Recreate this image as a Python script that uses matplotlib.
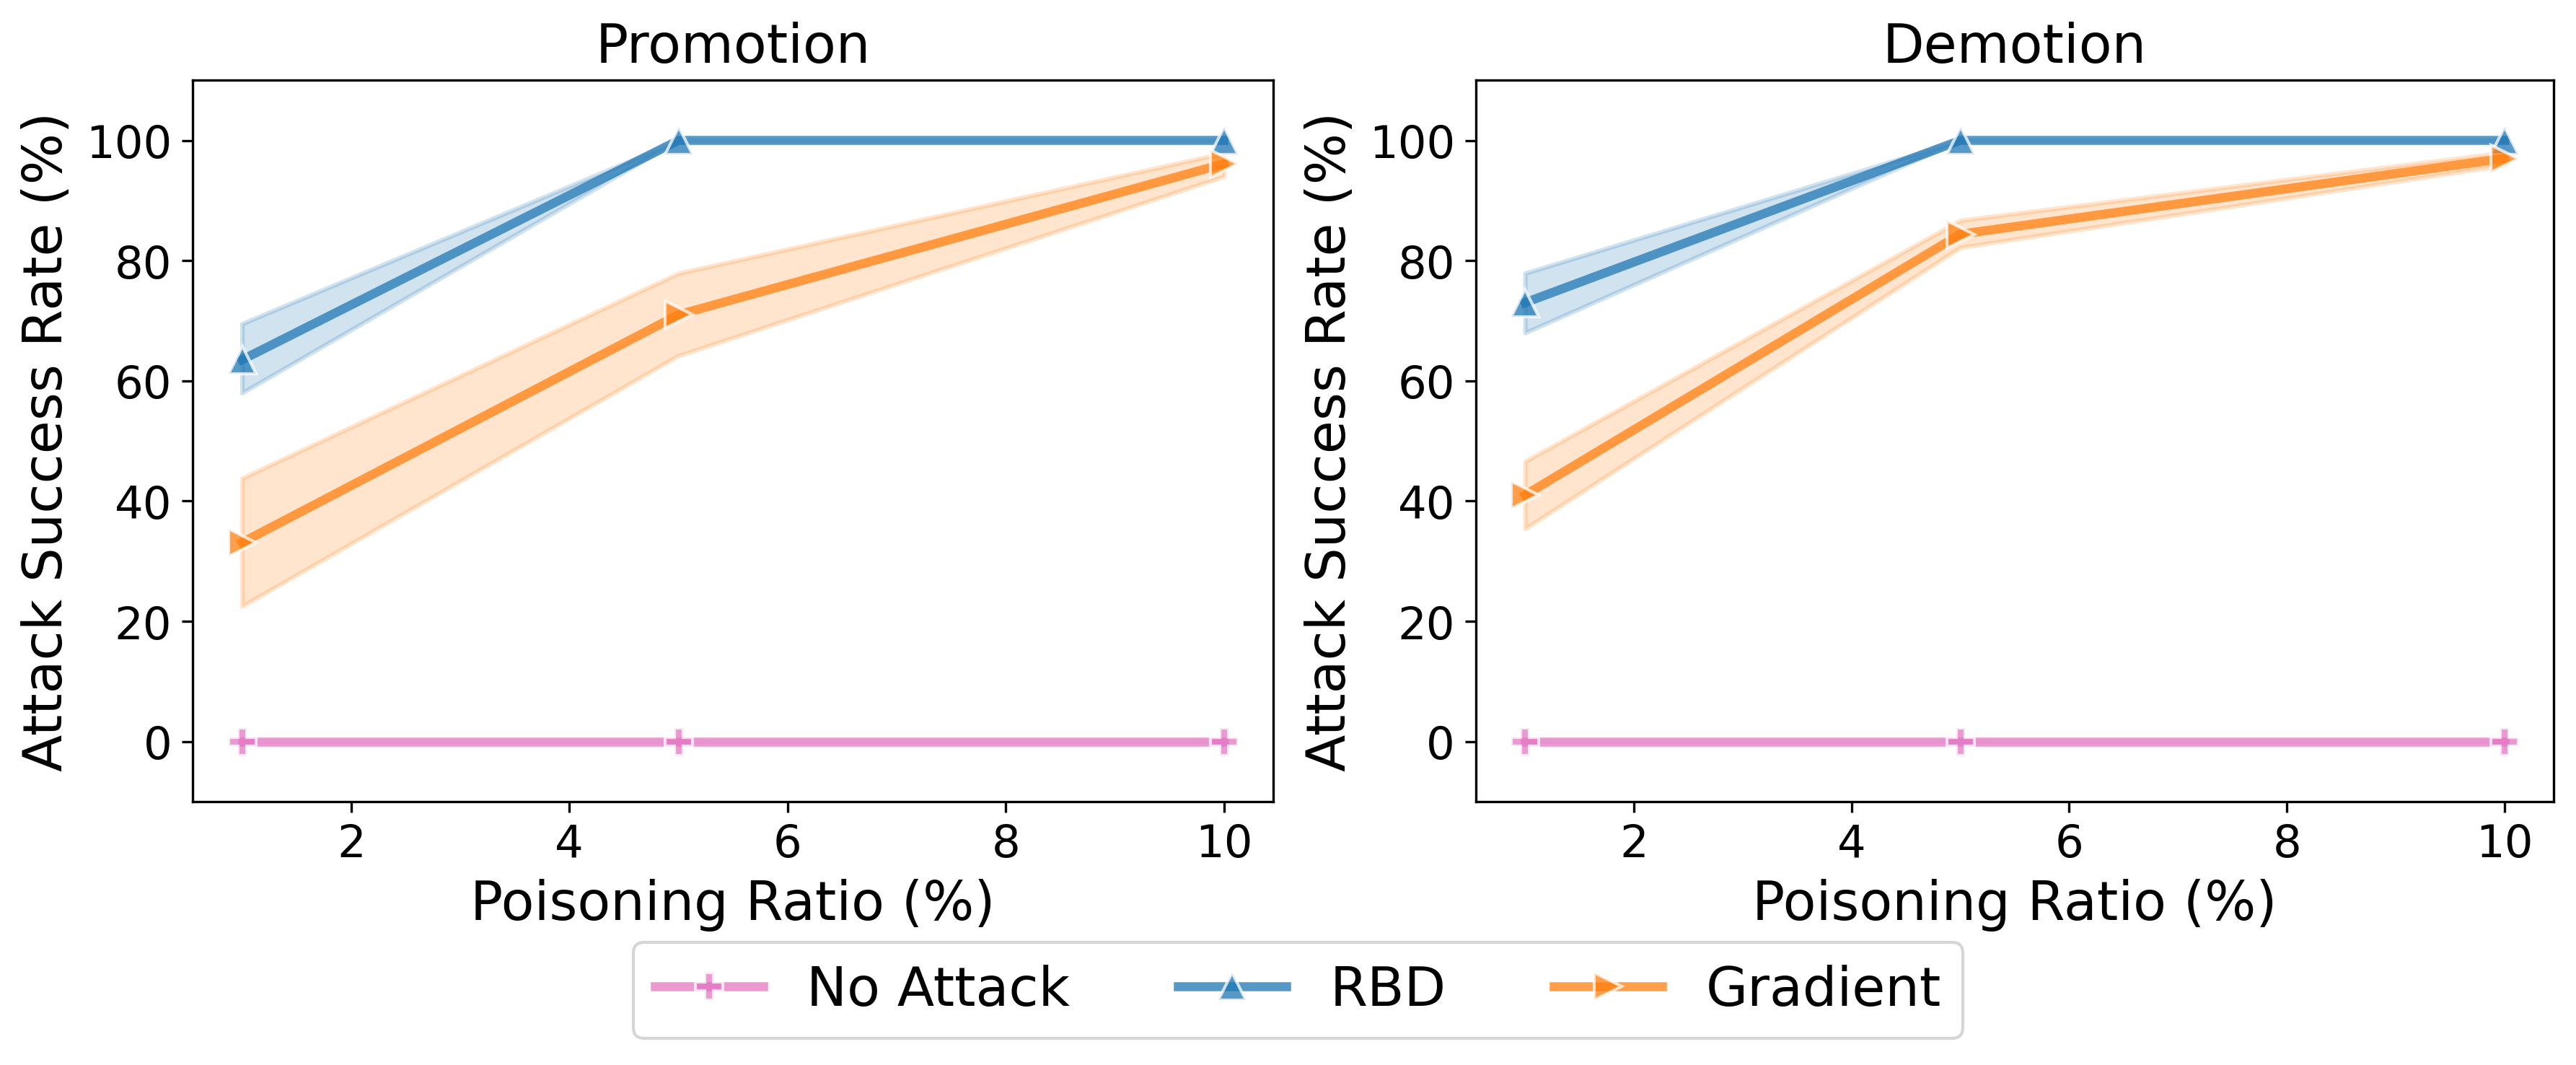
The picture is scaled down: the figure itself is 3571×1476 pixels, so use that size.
import matplotlib
matplotlib.use("Agg")
import matplotlib.pyplot as plt
import numpy as np

# ---- data ----
ratios = [1, 5, 10]
series_names = ["No Attack", "RBD", "Gradient"]

promo_none = [0, 0, 0]
promo_none_lo = [0, 0, 0]
promo_none_hi = [0, 0, 0]
promo_rbd = [63.5, 100, 100]
promo_rbd_lo = [58.0, 100, 100]
promo_rbd_hi = [69.5, 100, 100]
promo_grad = [33.1, 71.0, 96.1]
promo_grad_lo = [22.5, 64.2, 94.0]
promo_grad_hi = [43.8, 77.9, 97.9]

demo_none = [0, 0, 0]
demo_none_lo = [0, 0, 0]
demo_none_hi = [0, 0, 0]
demo_rbd = [73.0, 100, 100]
demo_rbd_lo = [68.0, 100, 100]
demo_rbd_hi = [77.9, 100, 100]
demo_grad = [41.0, 84.4, 97.0]
demo_grad_lo = [35.4, 82.2, 95.9]
demo_grad_hi = [46.6, 86.7, 98.0]

panel_titles = ["Promotion", "Demotion"]
xticks = [2, 4, 6, 8, 10]
yticks = [0, 20, 40, 60, 80, 100]

colors = ["#e377c2", "#1f77b4", "#ff7f0e"]
markers = ["P", "^", ">"]

panels = [
    [(promo_none, promo_none_lo, promo_none_hi),
     (promo_rbd, promo_rbd_lo, promo_rbd_hi),
     (promo_grad, promo_grad_lo, promo_grad_hi)],
    [(demo_none, demo_none_lo, demo_none_hi),
     (demo_rbd, demo_rbd_lo, demo_rbd_hi),
     (demo_grad, demo_grad_lo, demo_grad_hi)],
]

plt.rcParams['font.family'] = ['DejaVu Sans']

fig = plt.figure(figsize=(3571 / 300, 1477 / 300), dpi=300)
ax_pos = [[0.0749, 0.2471, 0.4193, 0.6769],
          [0.5730, 0.2471, 0.4183, 0.6769]]

axes = []
for p, (title, data) in enumerate(zip(panel_titles, panels)):
    ax = fig.add_axes(ax_pos[p])
    axes.append(ax)
    for i, (mean, lo, hi) in enumerate(data):
        ax.fill_between(ratios, lo, hi, color=colors[i], alpha=0.2, linewidth=1.5)
        ax.plot(ratios, mean, color=colors[i], marker=markers[i], lw=3, ms=9,
                mec="white", mew=1, alpha=0.75, label=series_names[i])
    ax.set_title(title, fontsize=18)
    ax.set_xlabel("Poisoning Ratio (%)", fontsize=18)
    ax.set_ylabel("Attack Success Rate (%)", fontsize=18)
    ax.set_ylim(-10, 110)
    ax.set_xticks(xticks)
    ax.set_yticks(yticks)
    ax.tick_params(labelsize=15)

handles, labels = axes[0].get_legend_handles_labels()
fig.legend(handles, labels, loc="center", bbox_to_anchor=(0.5039, 0.070),
           ncol=3, fontsize=18)

fig.savefig("out.png", dpi=300)
